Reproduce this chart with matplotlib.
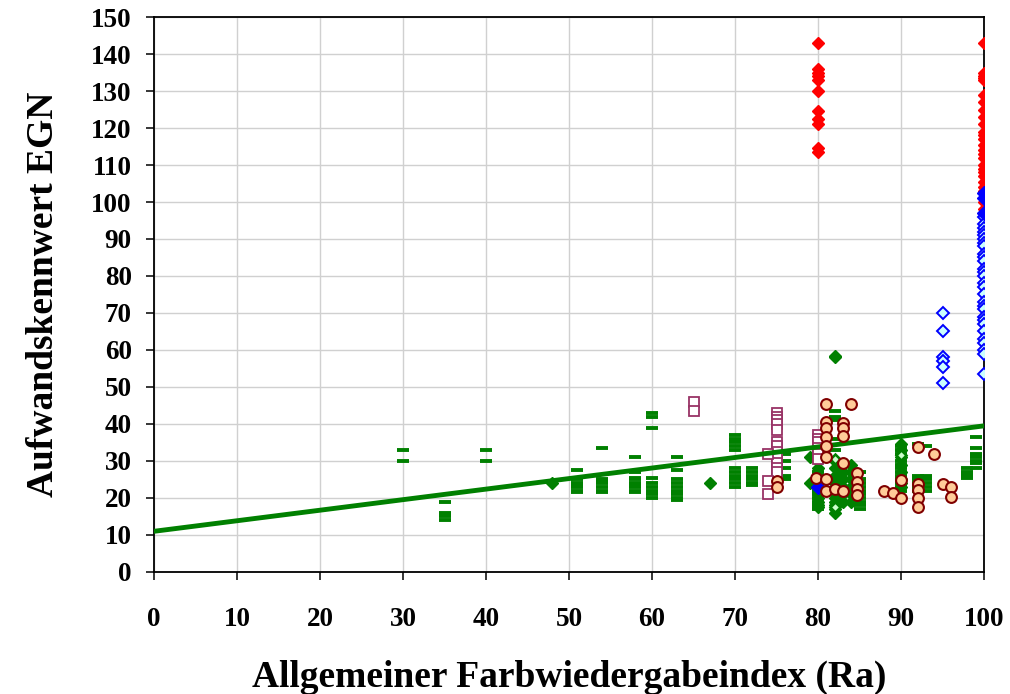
import matplotlib
matplotlib.use("Agg")
import matplotlib.pyplot as plt

# ---------------- data ----------------
green_dash_x = ([30, 30] + [35] * 5 + [40, 40] + [51] * 7 + [54] * 7 + [58] * 9 + [60] * 9 +
                [63] * 9 + [70] * 11 + [72] * 6 + [75] * 7 + [76] * 5 + [80] * 9 + [82] * 5 +
                [85] * 10 + [90] * 12 + [92] * 6 + [93] * 6 + [98] * 5 + [99] * 7)
green_dash_y = ([33, 30] +
                [19, 16, 15.5, 15, 14] +
                [33, 30] +
                [27.5, 25, 24, 23.5, 23, 22, 21.5] +
                [33.5, 25, 24.5, 24, 23, 22, 21.5] +
                [31, 27, 25.5, 25, 24, 23.5, 23, 22, 21.5] +
                [43, 42, 39, 25.5, 24, 23, 22, 21, 20] +
                [31, 27.5, 25, 24, 23, 22, 21, 20, 19.5] +
                [37, 36, 35, 34, 33, 28, 27, 26, 25, 24, 23] +
                [28, 27, 26, 25, 24, 23.5] +
                [34, 33, 30, 29, 27, 26, 25] +
                [32, 30, 28, 26, 25] +
                [27, 25, 24, 22, 21, 20, 19, 18, 17] +
                [43.5, 42, 41, 36, 33] +
                [27, 25, 24, 23, 22, 21, 20, 19, 18, 17] +
                [34, 33, 32, 30, 29, 28, 27, 26, 25, 24, 23, 22] +
                [34.5, 26, 25, 24, 23, 22] +
                [34, 26, 25, 24, 23, 22] +
                [28, 27, 26.5, 26, 25.5] +
                [36.5, 33.5, 32, 31, 30, 29.5, 28])

green_dia_x = [48, 67, 79, 79, 80, 80, 80, 80, 80, 80, 80, 80, 80, 80, 80, 80,
               82, 82, 82, 82, 82, 82, 82, 82, 82, 82, 82, 82, 82, 82, 82,
               83, 83, 83, 83, 83, 84, 84, 84, 84, 84, 84,
               90, 90, 90, 90, 90, 90, 90, 90]
green_dia_y = [24, 24, 31, 24, 30, 28, 26, 25, 24, 23, 22, 21, 20, 19, 18, 17.5,
               58.5, 58, 30, 28, 26, 25, 24, 23, 22, 21, 20, 19, 18, 17, 16,
               27, 25, 23, 21, 19, 29, 27, 25, 23, 21, 19,
               34.5, 33, 31, 29, 27, 25, 24, 23]

green_open_x = [82, 82, 90]
green_open_y = [30.5, 17.5, 31.5]

red_x = [80] * 11 + [100] * 27
red_y = ([143, 136, 135, 134, 133, 130, 124.5, 122.5, 121, 114.5, 113.5] +
         [143, 135, 134, 133.5, 133, 129, 127, 125, 123, 121, 119, 118, 117, 115.5,
          114, 113, 112, 110, 109, 108, 107, 105.5, 104, 103, 101, 100, 98])

blue_open_x = [95] * 6 + [100] * 29
blue_open_y = ([70, 65, 58, 57, 55.5, 51] +
               [96, 94, 93, 92, 91, 90, 89, 88, 86, 85, 84, 82, 81, 80, 78, 77, 75,
                73, 72, 71, 69, 68, 67, 65, 63, 62, 60, 59, 53.5])

blue_fill_x = [100, 100, 100, 80]
blue_fill_y = [102.5, 101, 97, 23]

square_x = [65, 65, 75, 75, 75, 75, 75, 75, 75, 75, 75, 75, 75, 75,
            74, 74, 74, 80, 80, 80, 80, 80, 80]
square_y = [46, 43.5, 43, 42, 41, 40, 38.5, 35, 34, 32.5, 31, 29.5, 28, 27,
            32, 24.5, 21, 37, 36, 35, 33.5, 32, 30.5]

circle_x = [81, 84, 81, 81, 81, 81, 81, 83, 83, 83, 83, 84.7, 84.7, 84.7, 84.7,
            79.8, 81, 81, 82, 83, 75, 75, 92, 94, 88, 89, 90, 90, 92, 92, 92, 92,
            95, 96, 96]
circle_y = [45.5, 45.5, 40.5, 39, 36.5, 34, 31, 40.3, 39, 36.8, 29.5, 26.8, 24.3, 22.4, 20.8,
            25.4, 25, 22, 22.4, 22, 24.6, 23, 33.8, 31.9, 22, 21.4, 20, 24.9, 23.8, 22.2, 20, 17.6,
            23.8, 23, 20.3]

trend_x = [0, 100]
trend_y = [11, 39.5]

x_ticks = list(range(0, 101, 10))
y_ticks = list(range(0, 151, 10))
x_label = "Allgemeiner Farbwiedergabeindex (Ra)"
y_label = "Aufwandskennwert EGN"

# ---------------- plot ----------------
plt.rcParams['font.family'] = ['Liberation Serif', 'DejaVu Serif']
fig = plt.figure(figsize=(10.10, 6.94), dpi=100)
ax = fig.add_axes([0.1525, 0.1758, 0.8218, 0.7997])

ax.plot(green_dash_x, green_dash_y, ls='none', marker='_', ms=8.5, mew=2.8,
        color='#008000', zorder=3)
ax.plot(green_dia_x, green_dia_y, ls='none', marker='D', ms=6.3, color='#008000',
        mec='#008000', zorder=3)
ax.plot(green_open_x, green_open_y, ls='none', marker='D', ms=5.5, mfc='#CCFFCC',
        mec='#008000', mew=1.8, zorder=3)
ax.plot(red_x, red_y, ls='none', marker='D', ms=6.5, color='#FF0000', zorder=3)
ax.plot(blue_open_x, blue_open_y, ls='none', marker='D', ms=6, mfc='#CCFFFF',
        mec='#0000FF', mew=1.4, zorder=4)
ax.plot(blue_fill_x, blue_fill_y, ls='none', marker='D', ms=7.5, color='#0000FF', zorder=4)
ax.plot(square_x, square_y, ls='none', marker='s', ms=6.5, mfc='white',
        mec='#993366', mew=1.3, zorder=4)
ax.plot(trend_x, trend_y, color='#008000', lw=3.5, solid_capstyle='round', zorder=5)
ax.plot(circle_x, circle_y, ls='none', marker='o', ms=7.8, mfc='#FFCC99',
        mec='#800000', mew=1.5, zorder=6)

ax.set_xlim(0, 100)
ax.set_ylim(0, 150)
ax.set_xticks(x_ticks)
ax.set_yticks(y_ticks)
ax.grid(True, color='#D0D0D0', lw=1)
ax.set_axisbelow(True)
for s in ax.spines.values():
    s.set_color('black')
    s.set_linewidth(1.3)
ax.tick_params(axis='both', direction='out', length=6, width=1.1, labelsize=19.5)
ax.tick_params(axis='y', pad=10)
ax.tick_params(axis='x', pad=19)
for lbl in ax.get_xticklabels() + ax.get_yticklabels():
    lbl.set_fontweight('bold')

ax.set_xlabel(x_label, fontsize=27, fontweight='bold', labelpad=20)
ax.set_ylabel(y_label, fontsize=27, fontweight='bold', labelpad=22)

fig.savefig("out.png", dpi=100)
